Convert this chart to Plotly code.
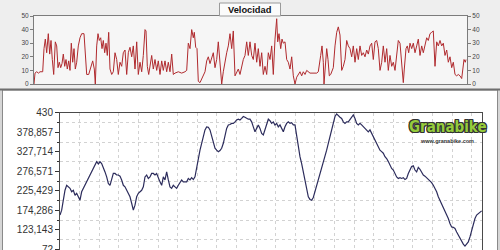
import plotly.graph_objects as go

# ---------------- data ----------------
title_text = "Velocidad"

vel_km = [0.0, 0.1, 0.27, 0.45, 0.6, 0.87, 1.0, 1.13, 1.27, 1.43, 1.57, 1.7, 1.83, 1.97, 2.13, 2.27, 2.4, 2.53, 2.67, 2.8,
          2.93, 3.07, 3.2, 3.33, 3.47, 3.6, 3.73, 3.87, 4.0, 4.13, 4.27, 4.43, 4.6, 4.77, 5.0, 5.13, 5.27, 5.47, 5.67, 5.87,
          6.03, 6.13, 6.27, 6.4, 6.53, 6.67, 6.8, 6.93, 7.07, 7.2, 7.33, 7.47, 7.6, 7.77, 7.93, 8.1, 8.27, 8.43, 8.6, 8.77,
          8.93, 9.1, 9.27, 9.43, 9.6, 9.77, 9.93, 10.1, 10.27, 10.43, 10.6, 10.77, 10.93, 11.1, 11.2, 11.33, 11.47, 11.6, 11.77, 11.93,
          12.1, 12.27, 12.43, 12.6, 12.77, 12.93, 13.1, 13.27, 13.43, 13.6, 13.77, 13.93, 14.1, 14.43, 14.77, 15.1, 15.27, 15.43, 15.6, 15.77,
          15.93, 16.03, 16.17, 16.3, 16.43, 16.6, 16.77, 16.93, 17.1, 17.27, 17.43, 17.6, 17.77, 17.93, 18.1, 18.27, 18.43, 18.6, 18.77, 18.93,
          19.1, 19.27, 19.43, 19.6, 19.77, 19.93, 20.1, 20.27, 20.43, 20.6, 20.77, 20.93, 21.1, 21.27, 21.43, 21.6, 21.77, 21.93, 22.1, 22.27,
          22.43, 22.6, 22.77, 22.93, 23.1, 23.27, 23.43, 23.6, 23.77, 23.93, 24.1, 24.27, 24.37, 24.5, 24.67, 24.8, 24.93, 25.1, 25.27, 25.43,
          25.6, 25.77, 25.93, 26.1, 26.27, 26.43, 26.6, 26.77, 26.93, 27.1, 27.27, 27.6, 27.93, 28.27, 28.43, 28.53, 28.67, 28.8, 28.93, 29.0,
          29.13, 29.27, 29.4, 29.53, 29.67, 29.8, 29.93, 30.1, 30.27, 30.43, 30.6, 30.77, 30.93, 31.1, 31.27, 31.43, 31.6, 31.77, 31.93, 32.1,
          32.27, 32.43, 32.6, 32.77, 32.93, 33.1, 33.27, 33.43, 33.6, 33.77, 33.93, 34.1, 34.27, 34.43, 34.6, 34.77, 34.93, 35.1, 35.27, 35.43,
          35.6, 35.77, 35.93, 36.1, 36.27, 36.43, 36.6, 36.77, 36.93, 37.03, 37.2, 37.33, 37.47, 37.6, 37.77, 37.93, 38.1, 38.27, 38.43, 38.6,
          38.77, 38.93, 39.1, 39.27, 39.43, 39.6, 39.77, 39.93, 40.1, 40.27, 40.43, 40.6, 40.77, 40.93, 41.1, 41.27, 41.43, 41.6, 41.77, 41.93,
          42.1, 42.27, 42.43, 42.6, 42.77, 42.87, 43.0, 43.13, 43.2]

vel_kmh = [0, 8, 9, 8, 9, 9, 26, 33, 23, 37, 22, 32, 18, 7, 31, 28, 12, 16, 12, 15,
           22, 13, 18, 11, 17, 10, 30, 16, 26, 11, 16, 28, 34, 37, 37, 23, 7, 7, 13, 17,
           11, 0, 28, 37, 32, 34, 26, 32, 23, 30, 21, 38, 11, 7, 9, 23, 18, 7, 16, 13,
           23, 25, 7, 23, 27, 20, 28, 11, 31, 7, 16, 9, 21, 40, 39, 13, 7, 12, 21, 11,
           18, 10, 17, 7, 17, 10, 17, 9, 16, 9, 22, 7, 8, 9, 8, 9, 10, 30, 26, 40,
           34, 38, 27, 26, 2, 1, 4, 7, 9, 17, 20, 15, 20, 23, 12, 18, 31, 16, 0, 9,
           18, 23, 28, 37, 26, 39, 6, 9, 11, 7, 13, 18, 21, 31, 21, 31, 21, 18, 30, 16,
           26, 13, 23, 7, 13, 7, 23, 18, 28, 7, 33, 48, 31, 37, 26, 33, 30, 31, 18, 16,
           11, 20, 6, 0, 5, 7, 9, 6, 9, 7, 10, 8, 8, 8, 9, 13, 21, 28, 16, 0,
           16, 26, 18, 6, 7, 9, 12, 28, 38, 42, 36, 10, 13, 18, 32, 28, 26, 20, 28, 16,
           26, 18, 28, 21, 23, 20, 25, 22, 28, 30, 18, 31, 32, 26, 10, 16, 28, 16, 26, 10,
           21, 13, 16, 10, 21, 32, 30, 13, 1, 11, 26, 28, 23, 30, 26, 30, 23, 28, 33, 21,
           28, 23, 30, 34, 32, 37, 38, 39, 13, 31, 28, 32, 28, 30, 21, 25, 16, 20, 12, 16,
           7, 6, 7, 6, 4, 13, 18, 16, 18]

elev_step_km = 0.17
elev_m = [162, 175, 201, 227, 240, 236, 232, 223, 227, 214,
          219, 210, 201, 223, 232, 240, 249, 258, 267, 275,
          284, 297, 302, 296, 302, 297, 287, 275, 262, 245,
          240, 254, 271, 271, 267, 267, 264, 254, 240, 236,
          227, 219, 210, 193, 175, 188, 210, 219, 223, 227,
          236, 262, 267, 258, 262, 271, 271, 267, 271, 258,
          249, 240, 262, 254, 275, 254, 236, 232, 240, 236,
          232, 240, 249, 254, 249, 249, 249, 258, 254, 260,
          255, 262, 289, 315, 332, 350, 367, 385, 393, 392,
          385, 371, 354, 337, 332, 328, 331, 337, 350, 367,
          389, 398, 399, 402, 402, 406, 411, 413, 411, 415,
          420, 418, 415, 413,
          413, 406, 393, 380, 389, 398, 389, 376, 372, 385,
          402, 413, 409, 402, 406, 398, 402, 393, 398, 389,
          380, 393, 402, 406, 402, 404, 398, 398, 367, 332,
          315, 297, 275, 254, 227, 210, 203, 201, 208, 223,
          236, 254, 267, 284, 302, 315, 332, 350, 367, 385,
          402, 420, 427, 421, 418, 415, 406, 402, 406, 406,
          413, 420, 424, 415, 402, 398, 402, 398, 393, 389,
          385, 380, 385, 376, 367, 358, 350, 337, 332, 328,
          324, 315, 310, 302, 293, 284, 280, 271, 262, 258,
          260, 258, 260, 255, 258, 271, 280, 289, 291, 280,
          275, 287, 282, 275, 267, 264, 260, 255, 252, 247,
          240, 232, 223, 210, 201, 193, 184, 175, 166, 153,
          140, 131, 130, 127, 118, 110, 101, 92, 86, 81,
          86, 92, 105, 123, 140, 153, 162, 166, 171, 173]

vel_ticks = [0, 10, 20, 30, 40, 50]
elev_ticks = [72, 123.143, 174.286, 225.429, 276.571, 327.714, 378.857, 430]
elev_ticktext = ["72", "123,143", "174,286", "225,429", "276,571", "327,714", "378,857", "430"]
logo_text = "Granabike"
logo_url = "www.granabike.com"

elev_km = [i * elev_step_km for i in range(len(elev_m))]
elev_mid = [(elev_ticks[i] + elev_ticks[i + 1]) / 2 for i in range(len(elev_ticks) - 1)]

# ---------------- layout helpers ----------------
W, H = 500, 250
def px(x): return x / W
def py(y): return 1 - y / H

FONT = "Liberation Sans, Arial, sans-serif"

fig = go.Figure()
fig.add_trace(go.Scatter(x=vel_km, y=vel_kmh, mode="lines", xaxis="x", yaxis="y",
                         line=dict(color="#b02a2e", width=1), showlegend=False, hoverinfo="skip"))
fig.add_trace(go.Scatter(x=[None], y=[None], mode="lines", xaxis="x", yaxis="y3",
                         showlegend=False, hoverinfo="skip"))
fig.add_trace(go.Scatter(x=elev_km, y=elev_m, mode="lines", xaxis="x2", yaxis="y2",
                         line=dict(color="#2c2c5c", width=1.2), showlegend=False, hoverinfo="skip"))

shapes = [
    dict(type="rect", xref="paper", yref="paper", x0=0, x1=1, y0=py(89), y1=1,
         fillcolor="#eeeeee", line=dict(width=0), layer="below"),
    dict(type="rect", xref="paper", yref="paper", x0=px(34), x1=px(467), y0=py(84), y1=py(16),
         fillcolor="#f6f6f6", line=dict(width=0), layer="below"),
    dict(type="rect", xref="paper", yref="paper", x0=0, x1=1, y0=0, y1=py(89),
         fillcolor="#d6d6d6", line=dict(width=0), layer="below"),
    dict(type="rect", xref="paper", yref="paper", x0=px(2.5), x1=px(497.5), y0=-0.02, y1=py(90),
         fillcolor="#ffffff", line=dict(color="#8a8a8a", width=1), layer="below"),
    dict(type="line", xref="paper", yref="paper", x0=0, x1=1, y0=py(89.5), y1=py(89.5),
         line=dict(color="#6e6e6e", width=2), layer="below"),
    dict(type="rect", xref="paper", yref="paper", x0=px(219.5), x1=px(280.5), y0=py(16), y1=py(3),
         fillcolor="#fbfbfb", line=dict(color="#9a9a9a", width=1), layer="above"),
]

outline = "1px 0 0 #333, -1px 0 0 #333, 0 1px 0 #333, 0 -1px 0 #333, 1px 1px 0 #333, -1px -1px 0 #333, 1px -1px 0 #333, -1px 1px 0 #333"
annotations = [
    dict(text="<b>%s</b>" % title_text, xref="paper", yref="paper", x=px(250), y=py(9.8),
         showarrow=False, font=dict(family=FONT, size=9.3, color="#111111"),
         xanchor="center", yanchor="middle"),
    dict(text="<b>%s</b>" % logo_text, xref="paper", yref="paper", x=px(447.5), y=py(127),
         showarrow=False,
         font=dict(family="DejaVu Sans Condensed, DejaVu Sans", size=15, color="#95cc3c", shadow=outline),
         xanchor="center", yanchor="middle"),
    dict(text="<b>%s</b>" % logo_url, xref="paper", yref="paper", x=px(447), y=py(141),
         showarrow=False, font=dict(family=FONT, size=5.5, color="#333333"),
         xanchor="center", yanchor="middle"),
]

fig.update_layout(
    width=W, height=H, margin=dict(l=0, r=0, t=0, b=0, autoexpand=False),
    paper_bgcolor="#ffffff", plot_bgcolor="rgba(0,0,0,0)",
    font=dict(family=FONT),
    shapes=shapes, annotations=annotations,
    xaxis=dict(domain=[px(34), px(467)], range=[0, 43.3], anchor="y", automargin=False,
               showticklabels=False, ticks="", showgrid=False, zeroline=False,
               showline=True, mirror=True, linecolor="#7c7c7c", linewidth=1),
    yaxis=dict(domain=[py(84), py(16)], range=[0, 50], anchor="x", automargin=False,
               tickvals=vel_ticks, ticks="outside", ticklen=3, tickcolor="#7c7c7c",
               tickfont=dict(size=6.5, color="#444444"), showgrid=False, zeroline=False,
               showline=True, mirror=True, linecolor="#7c7c7c", linewidth=1),
    yaxis3=dict(overlaying="y", side="right", range=[0, 50], anchor="x", automargin=False,
                tickvals=vel_ticks, ticks="outside", ticklen=3, tickcolor="#7c7c7c",
                tickfont=dict(size=6.5, color="#444444"), showgrid=False, zeroline=False,
                showline=False),
    xaxis2=dict(domain=[px(60), px(482.3)], range=[0, 253.4 * elev_step_km], anchor="y2",
                automargin=False,
                showticklabels=False, ticks="", tick0=0, dtick=2,
                showgrid=True, gridcolor="#d2d2d2", gridwidth=1, griddash="3px,3px",
                zeroline=False, showline=True, mirror=True, linecolor="#4a4a4a", linewidth=1),
    yaxis2=dict(domain=[py(249.5), py(112.7)], range=[72, 430], anchor="x2", automargin=False,
                tickvals=elev_ticks, ticktext=elev_ticktext, ticks="outside", ticklen=4,
                tickcolor="#333333", tickfont=dict(size=10, color="#333333"),
                ticklabeloverflow="allow",
                showgrid=False, zeroline=False,
                showline=True, mirror=True, linecolor="#4a4a4a", linewidth=1,
                minor=dict(tickvals=elev_mid, ticks="outside", ticklen=2, tickcolor="#333333",
                           showgrid=True, gridcolor="#d2d2d2", gridwidth=1, griddash="3px,3px")),
)

fig.write_html("out.html")
